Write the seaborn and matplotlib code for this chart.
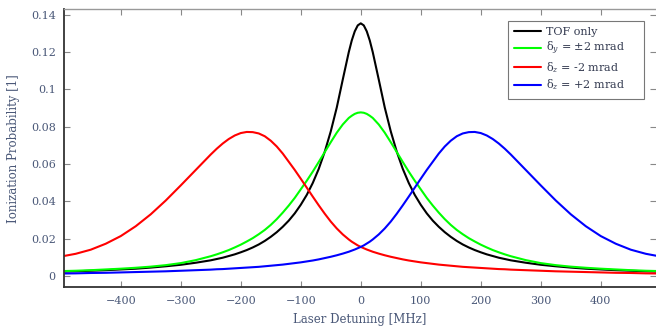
import numpy as np
import pandas as pd
import matplotlib
matplotlib.use("Agg")
import matplotlib.pyplot as plt
import seaborn as sns

# Laser detuning grid [MHz]: 25 MHz steps in the wings, finer steps in the centre
detuning = [-500, -475, -450, -425, -400, -375, -350, -325, -300, -275,
            -250, -240, -230, -220, -210, -200, -190, -180, -170, -160, -150, -140, -130, -120, -110,
            -100, -90, -80, -70, -60, -50, -40, -30, -20, -15, -10, -5,
            0,
            5, 10, 15, 20, 30, 40, 50, 60, 70, 80, 90, 100,
            110, 120, 130, 140, 150, 160, 170, 180, 190, 200, 210, 220, 230, 240, 250,
            275, 300, 325, 350, 375, 400, 425, 450, 475, 500]

# Ionization probability, TOF only
tof_only = [0.0022, 0.0024, 0.0027, 0.0030, 0.0034, 0.0038, 0.0044, 0.0051, 0.0059, 0.0070,
            0.0083, 0.0090, 0.0097, 0.0106, 0.0115, 0.0126, 0.0138, 0.0152, 0.0168, 0.0187, 0.0209, 0.0234, 0.0263, 0.0296, 0.0335,
            0.0381, 0.0434, 0.0498, 0.0574, 0.0666, 0.0775, 0.0903, 0.1053, 0.1200, 0.1263, 0.1312, 0.1344,
            0.1355,
            0.1344, 0.1312, 0.1263, 0.1200, 0.1053, 0.0903, 0.0775, 0.0666, 0.0574, 0.0498, 0.0434, 0.0381,
            0.0335, 0.0296, 0.0263, 0.0234, 0.0209, 0.0187, 0.0168, 0.0152, 0.0138, 0.0126, 0.0115, 0.0106, 0.0097, 0.0090, 0.0083,
            0.0070, 0.0059, 0.0051, 0.0044, 0.0038, 0.0034, 0.0030, 0.0027, 0.0024, 0.0022]

# Ionization probability, delta_y = +-2 mrad
dy_pm2 = [0.0025, 0.0027, 0.0030, 0.0034, 0.0038, 0.0043, 0.0049, 0.0057, 0.0068, 0.0084,
          0.0105, 0.0115, 0.0126, 0.0138, 0.0152, 0.0167, 0.0184, 0.0202, 0.0223, 0.0246, 0.0273, 0.0304, 0.0339, 0.0377, 0.0418,
          0.0464, 0.0510, 0.0559, 0.0611, 0.0664, 0.0717, 0.0768, 0.0812, 0.0847, 0.0859, 0.0869, 0.0875,
          0.0877,
          0.0875, 0.0869, 0.0859, 0.0847, 0.0812, 0.0768, 0.0717, 0.0664, 0.0611, 0.0559, 0.0510, 0.0464,
          0.0418, 0.0377, 0.0339, 0.0304, 0.0273, 0.0246, 0.0223, 0.0202, 0.0184, 0.0167, 0.0152, 0.0138, 0.0126, 0.0115, 0.0105,
          0.0084, 0.0068, 0.0057, 0.0049, 0.0043, 0.0038, 0.0034, 0.0030, 0.0027, 0.0025]

# Ionization probability, delta_z = -2 mrad
dz_m2 = [0.0103, 0.0118, 0.0140, 0.0172, 0.0213, 0.0266, 0.0330, 0.0404, 0.0485, 0.0568,
         0.0651, 0.0682, 0.0710, 0.0734, 0.0753, 0.0766, 0.0772, 0.0771, 0.0764, 0.0749, 0.0725, 0.0694, 0.0656, 0.0612, 0.0568,
         0.0521, 0.0473, 0.0425, 0.0378, 0.0333, 0.0291, 0.0254, 0.0222, 0.0195, 0.0183, 0.0173, 0.0163,
         0.0155,
         0.0148, 0.0141, 0.0135, 0.0129, 0.0119, 0.0110, 0.0102, 0.0095, 0.0088, 0.0082, 0.0077, 0.0072,
         0.0068, 0.0064, 0.0060, 0.0057, 0.0054, 0.0051, 0.0048, 0.0046, 0.0044, 0.0042, 0.0040, 0.0038, 0.0036, 0.0035, 0.0033,
         0.0030, 0.0027, 0.0024, 0.0022, 0.0020, 0.0018, 0.0016, 0.0015, 0.0013, 0.0012]

# Ionization probability, delta_z = +2 mrad
dz_p2 = [0.0012, 0.0013, 0.0015, 0.0016, 0.0018, 0.0020, 0.0022, 0.0024, 0.0027, 0.0030,
         0.0033, 0.0035, 0.0036, 0.0038, 0.0040, 0.0042, 0.0044, 0.0046, 0.0048, 0.0051, 0.0054, 0.0057, 0.0060, 0.0064, 0.0068,
         0.0072, 0.0077, 0.0082, 0.0088, 0.0095, 0.0102, 0.0110, 0.0119, 0.0129, 0.0135, 0.0141, 0.0148,
         0.0155,
         0.0163, 0.0173, 0.0183, 0.0195, 0.0222, 0.0254, 0.0291, 0.0333, 0.0378, 0.0425, 0.0473, 0.0521,
         0.0568, 0.0612, 0.0656, 0.0694, 0.0725, 0.0749, 0.0764, 0.0771, 0.0772, 0.0766, 0.0753, 0.0734, 0.0710, 0.0682, 0.0651,
         0.0568, 0.0485, 0.0404, 0.0330, 0.0266, 0.0213, 0.0172, 0.0140, 0.0118, 0.0103]

series_names = ["TOF only", r"δ$_y$ = ±2 mrad", r"δ$_z$ = -2 mrad", r"δ$_z$ = +2 mrad"]
series_values = [tof_only, dy_pm2, dz_m2, dz_p2]
series_colors = ["#000000", "#00ff00", "#ff0000", "#0000ff"]

x_ticks = [-400, -300, -200, -100, 0, 100, 200, 300, 400]
y_ticks = [0, 0.02, 0.04, 0.06, 0.08, 0.1, 0.12, 0.14]
y_tick_labels = ["0", "0.02", "0.04", "0.06", "0.08", "0.1", "0.12", "0.14"]

df = pd.concat(
    [pd.DataFrame({"detuning": detuning, "prob": vals, "series": name})
     for name, vals in zip(series_names, series_values)],
    ignore_index=True,
)

sns.set_style("ticks")
plt.rcParams["font.family"] = ["DejaVu Serif"]
plt.rcParams["mathtext.fontset"] = "dejavuserif"

text_color = "#4a5878"

fig = plt.figure(figsize=(6.56, 3.28), dpi=100)
ax = fig.add_axes([0.0976, 0.124, 0.9024, 0.8486])

sns.lineplot(data=df, x="detuning", y="prob", hue="series", hue_order=series_names,
             palette=dict(zip(series_names, series_colors)), linewidth=1.5, ax=ax,
             legend=True)

ax.set_xlim(-494.5, 492)
ax.set_ylim(-0.0062, 0.1432)
ax.set_xticks(x_ticks)
ax.set_xticklabels([str(t).replace("-", "\u2212") for t in x_ticks])
ax.set_yticks(y_ticks)
ax.set_yticklabels(y_tick_labels)

ax.tick_params(axis="both", direction="in", length=4, width=0.8, color="#888888",
               labelsize=8, labelcolor=text_color, top=True, right=True, pad=6)

for side in ("left", "bottom"):
    ax.spines[side].set_color("#333333")
    ax.spines[side].set_linewidth(1.3)
ax.spines["top"].set_color("#999999")
ax.spines["top"].set_linewidth(1.0)
ax.spines["right"].set_visible(False)

ax.set_xlabel("Laser Detuning [MHz]", fontsize=8.5, color=text_color, labelpad=5)
ax.set_ylabel("Ionization Probability [1]", fontsize=8.5, color=text_color, labelpad=8)

leg = ax.legend(loc="upper left", bbox_to_anchor=(0.75, 0.6946, 0.2297, 0.2623),
                mode="expand", borderaxespad=0,
                fontsize=8, frameon=True, fancybox=False, handlelength=2.4,
                handletextpad=0.5, labelspacing=0.25, borderpad=0.55)
leg.get_frame().set_edgecolor("#555555")
leg.get_frame().set_linewidth(0.8)
for t in leg.get_texts():
    t.set_color("#333a50")

fig.savefig("out.png", dpi=100)
